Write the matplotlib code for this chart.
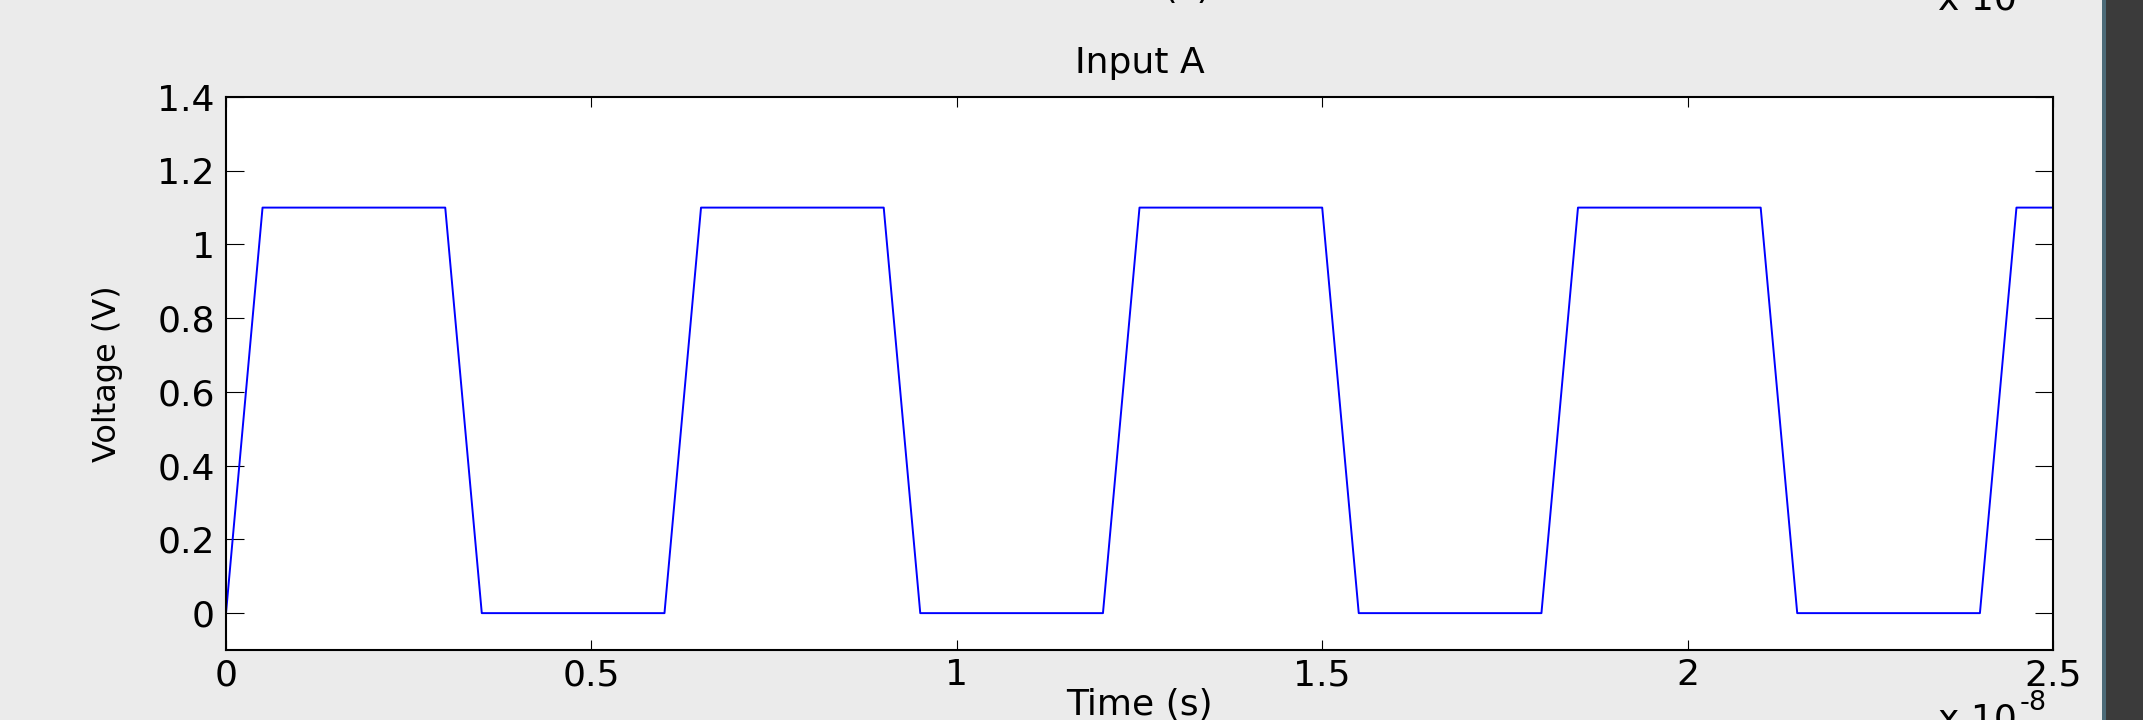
import matplotlib
matplotlib.use("Agg")
import matplotlib.pyplot as plt
from matplotlib.patches import Rectangle
from matplotlib.ticker import FuncFormatter

# corner points of the input waveform, time in ns
time_ns = [0, 0.5, 3.0, 3.5, 6.0, 6.5, 9.0, 9.5, 12.0, 12.5,
           15.0, 15.5, 18.0, 18.5, 21.0, 21.5, 24.0, 24.5, 25.0]
voltage = [0, 1.1, 1.1, 0, 0, 1.1, 1.1, 0, 0, 1.1,
           1.1, 0, 0, 1.1, 1.1, 0, 0, 1.1, 1.1]
x_ticks = [0, 0.5, 1.0, 1.5, 2.0, 2.5]   # x 1e-8 s
y_ticks = [0, 0.2, 0.4, 0.6, 0.8, 1.0, 1.2, 1.4]

plt.rcParams['font.family'] = ['DejaVu Sans']
W, H = 2143, 720
bg = '#ebebeb'
fs = 26

fig = plt.figure(figsize=(W / 100, H / 100), dpi=100, facecolor=bg)
ax = fig.add_axes([226 / W, 1 - 650 / H, (2053 - 226) / W, (650 - 97) / H])
ax.set_facecolor('white')

t = [v * 1e-9 for v in time_ns]
ax.plot(t, voltage, color='#0000ff', lw=1.4)

ax.set_xlim(0, 2.5e-8)
ax.set_ylim(-0.1, 1.4)
ax.set_xticks([v * 1e-8 for v in x_ticks])
ax.xaxis.set_major_formatter(FuncFormatter(lambda v, p: f'{round(v * 1e8, 3):g}'))
ax.set_yticks(y_ticks)
ax.yaxis.set_major_formatter(FuncFormatter(lambda v, p: f'{round(v, 3):g}'))

for s in ax.spines.values():
    s.set_linewidth(1.5)
    s.set_color('black')
ax.tick_params(axis='both', direction='in', top=True, right=True,
               labelsize=fs, width=0.8, color='black')
ax.tick_params(axis='y', length=13, pad=8)
ax.tick_params(axis='x', length=7, pad=6)

ax.set_title('Input A', fontsize=fs, pad=17)
ax.set_ylabel('Voltage (V)', fontsize=fs - 3)
ax.yaxis.set_label_coords(-0.0564, 0.5)
ax.set_xlabel('Time (s)', fontsize=fs, va='top')
ax.xaxis.set_label_coords(0.5, -0.068)

# exponent note under the axis (cut by the figure edge)
fig.text(2017 / W, -9 / H, 'x 10', fontsize=fs, va='baseline', ha='right')
fig.text(2020 / W, 10 / H, '-8', fontsize=fs * 0.75, va='baseline', ha='left')

# leftovers of the subplot above, cut off at the top
fig.text(1137 / W, 722 / H, 'Time (s)', fontsize=fs, va='baseline', ha='center')
fig.text(2017 / W, 710 / H, 'x 10', fontsize=fs, va='baseline', ha='right')
fig.text(2020 / W, 729 / H, '-8', fontsize=fs * 0.75, va='baseline', ha='left')

# dark strip on the right edge
fig.patches.append(Rectangle((2102 / W, 0), 4 / W, 1, transform=fig.transFigure,
                             facecolor='#4d6b78', edgecolor='none'))
fig.patches.append(Rectangle((2106 / W, 0), 37 / W, 1, transform=fig.transFigure,
                             facecolor='#3b3b3b', edgecolor='none'))

fig.savefig('out.png', dpi=100, facecolor=bg)
